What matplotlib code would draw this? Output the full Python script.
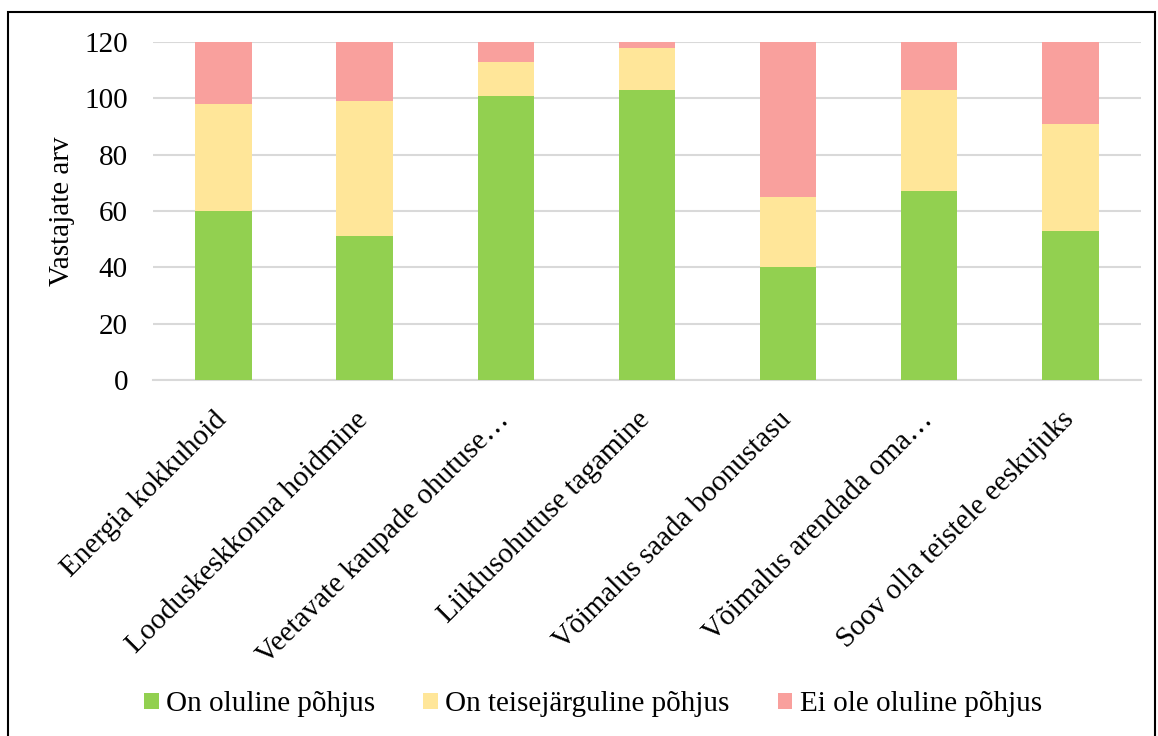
import matplotlib
matplotlib.use('Agg')
import matplotlib.pyplot as plt
import matplotlib.transforms as mtransforms
from matplotlib.patches import Rectangle
import numpy as np

plt.rcParams['font.family'] = ['Liberation Serif', 'DejaVu Serif']

categories = ['Energia kokkuhoid', 'Looduskeskkonna hoidmine',
              'Veetavate kaupade ohutuse\u2026', 'Liiklusohutuse tagamine',
              'Võimalus saada boonustasu', 'Võimalus arendada oma\u2026',
              'Soov olla teistele eeskujuks']
oluline = [60, 51, 101, 103, 40, 67, 53]
teisejarguline = [38, 48, 12, 15, 25, 36, 38]
ei_ole = [22, 21, 7, 2, 55, 17, 29]
series_names = ['On oluline põhjus', 'On teisejärguline põhjus', 'Ei ole oluline põhjus']
colors = ['#92D050', '#FFE699', '#F9A09D']

fs = 21

fig = plt.figure(figsize=(11.58, 7.36), dpi=100)
ax = fig.add_axes([0.1321, 0.4837, 0.8532, 0.4592])

x = np.arange(len(categories))
bottom = np.zeros(len(categories))
for vals, name, col in zip([oluline, teisejarguline, ei_ole], series_names, colors):
    ax.bar(x, vals, width=0.40, bottom=bottom, color=col, label=name, zorder=3)
    bottom += np.array(vals)

ax.set_xlim(-0.5, len(categories) - 0.5)
ax.set_ylim(0, 120)
ax.set_yticks(range(0, 121, 20))
ax.yaxis.grid(True, color='#D9D9D9', lw=1.5, zorder=0)
ax.set_axisbelow(True)
for s in ['top', 'right', 'left']:
    ax.spines[s].set_visible(False)
ax.spines['bottom'].set_color('#D9D9D9')
ax.spines['bottom'].set_linewidth(1.5)
ax.tick_params(axis='both', length=0, labelsize=fs)
ax.tick_params(axis='y', pad=18)
ax.set_xticks(x)
ax.set_xticklabels(categories, rotation=45, ha='right', rotation_mode='anchor')
# nudge the slanted labels a bit down and left
shift = mtransforms.ScaledTranslation(-10/100, -22/100, fig.dpi_scale_trans)
for lab in ax.get_xticklabels():
    lab.set_transform(lab.get_transform() + shift)
ax.set_ylabel('Vastajate arv', fontsize=fs, labelpad=7)

leg = fig.legend(loc='center', bbox_to_anchor=(0.512, 0.043), ncol=3, frameon=False,
                 fontsize=fs, handlelength=0.5, handleheight=0.5, handletextpad=0.25,
                 columnspacing=1.65)

# outer frame
fig.patches.append(Rectangle((8/1158, -0.05), 1147/1158, 1.05 - 12/736, transform=fig.transFigure,
                             fill=False, edgecolor='black', lw=1.5))

fig.savefig('out.png', dpi=100)
